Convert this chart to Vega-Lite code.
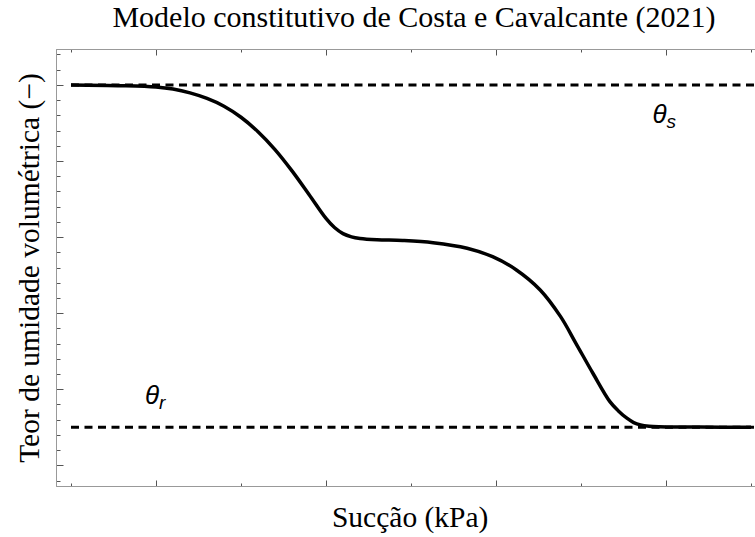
{
  "$schema": "https://vega.github.io/schema/vega-lite/v6.json",
  "width": 699,
  "height": 437,
  "autosize": {"type": "none"},
  "padding": {"left": 56, "top": 49, "right": 0, "bottom": 51},
  "background": "white",
  "config": {
    "view": {"stroke": null},
    "axis": {
      "grid": false,
      "labels": false,
      "domainColor": "#999999",
      "domainWidth": 1,
      "tickColor": "#555555",
      "tickWidth": 1,
      "titleFont": "Liberation Serif",
      "titleFontWeight": "normal",
      "titleColor": "#000000",
      "titleFontSize": 29.5
    }
  },
  "title": {
    "text": "Modelo constitutivo de Costa e Cavalcante (2021)",
    "font": "Liberation Serif",
    "fontSize": 30,
    "fontWeight": "normal",
    "color": "#000000",
    "anchor": "middle",
    "frame": "group",
    "baseline": "alphabetic",
    "offset": -8,
    "dx": 8.5
  },
  "datasets": {
    "curve": [
      {"x": 0.5, "y": 0.6},
      {"x": 0.8, "y": 0.599},
      {"x": 1.0, "y": 0.5972},
      {"x": 1.1, "y": 0.5945},
      {"x": 1.2, "y": 0.5895},
      {"x": 1.3, "y": 0.5822},
      {"x": 1.4, "y": 0.572},
      {"x": 1.5, "y": 0.5575},
      {"x": 1.6, "y": 0.5385},
      {"x": 1.7, "y": 0.515},
      {"x": 1.8, "y": 0.487},
      {"x": 1.9, "y": 0.456},
      {"x": 2.0, "y": 0.4245},
      {"x": 2.05, "y": 0.4125},
      {"x": 2.1, "y": 0.4045},
      {"x": 2.15, "y": 0.4003},
      {"x": 2.2, "y": 0.3982},
      {"x": 2.3, "y": 0.3965},
      {"x": 2.45, "y": 0.3955},
      {"x": 2.63, "y": 0.3926},
      {"x": 2.83, "y": 0.3853},
      {"x": 2.98, "y": 0.3742},
      {"x": 3.12, "y": 0.3568},
      {"x": 3.26, "y": 0.3305},
      {"x": 3.38, "y": 0.2954},
      {"x": 3.47, "y": 0.2604},
      {"x": 3.57, "y": 0.221},
      {"x": 3.67, "y": 0.1837},
      {"x": 3.72, "y": 0.1715},
      {"x": 3.77, "y": 0.1619},
      {"x": 3.81, "y": 0.1562},
      {"x": 3.85, "y": 0.1531},
      {"x": 3.9, "y": 0.1514},
      {"x": 3.96, "y": 0.1507},
      {"x": 4.2, "y": 0.1502},
      {"x": 4.5, "y": 0.15}
    ],
    "levels": [
      {"x0": 0.5, "x1": 4.5235, "y": 0.6},
      {"x0": 0.5, "x1": 4.5235, "y": 0.15}
    ],
    "labels": [
      {"x": 0.935, "y": 0.181, "sym": "θ", "sub": "r"},
      {"x": 3.92, "y": 0.55, "sym": "θ", "sub": "s"}
    ]
  },
  "layer": [
    {
      "data": {"name": "levels"},
      "mark": {"type": "rule", "color": "#000000", "strokeWidth": 3, "strokeDash": [8, 5.5]},
      "encoding": {
        "x": {
          "field": "x0", "type": "quantitative",
          "scale": {"domain": [0.4118, 4.5235], "nice": false, "zero": false},
          "axis": {"orient": "bottom", "values": [0.5, 1.5, 2.5, 3.5, 4.5], "tickSize": -3, "title": null}
        },
        "x2": {"field": "x1"},
        "y": {
          "field": "y", "type": "quantitative",
          "scale": {"domain": [0.0728, 0.6472], "nice": false, "zero": false},
          "axis": {"orient": "left", "values": [0.08, 0.12, 0.14, 0.16, 0.18, 0.22, 0.24, 0.26, 0.28, 0.32, 0.34, 0.36, 0.38, 0.42, 0.44, 0.46, 0.48, 0.52, 0.54, 0.56, 0.58, 0.62, 0.64], "tickSize": -4, "title": null}
        }
      }
    },
    {
      "data": {"name": "curve"},
      "mark": {"type": "line", "color": "#000000", "strokeWidth": 3.5, "interpolate": "catmull-rom"},
      "encoding": {
        "x": {
          "field": "x", "type": "quantitative",
          "axis": {"orient": "bottom", "values": [1, 2, 3, 4], "tickSize": -6, "title": "Sucção (kPa)", "titleX": 353.7, "titleY": 40.7, "titleAlign": "center", "titleBaseline": "alphabetic"}
        },
        "y": {
          "field": "y", "type": "quantitative",
          "axis": {"orient": "left", "values": [0.1, 0.2, 0.3, 0.4, 0.5, 0.6], "tickSize": -7, "title": "Teor de umidade volumétrica (−)", "titleX": -18, "titleY": 218.5, "titleAlign": "center", "titleBaseline": "alphabetic", "titleAngle": -90}
        }
      }
    },
    {
      "data": {"name": "labels"},
      "mark": {"type": "text", "font": "Liberation Sans", "fontStyle": "italic", "fontSize": 26, "align": "left", "baseline": "alphabetic", "color": "#000000"},
      "encoding": {
        "x": {"field": "x", "type": "quantitative", "axis": {"orient": "top", "values": [1, 2, 3, 4], "tickSize": -6, "title": null}},
        "y": {"field": "y", "type": "quantitative", "axis": null},
        "text": {"field": "sym"}
      }
    },
    {
      "data": {"name": "labels"},
      "mark": {"type": "text", "font": "Liberation Sans", "fontStyle": "italic", "fontSize": 19, "align": "left", "baseline": "alphabetic", "dx": 14, "dy": 5.5, "color": "#000000"},
      "encoding": {
        "x": {"field": "x", "type": "quantitative", "axis": {"orient": "top", "values": [0.5, 1.5, 2.5, 3.5, 4.5], "tickSize": -3, "title": null}},
        "y": {"field": "y", "type": "quantitative", "axis": null},
        "text": {"field": "sub"}
      }
    }
  ],
  "resolve": {"axis": {"x": "independent", "y": "independent"}}
}
